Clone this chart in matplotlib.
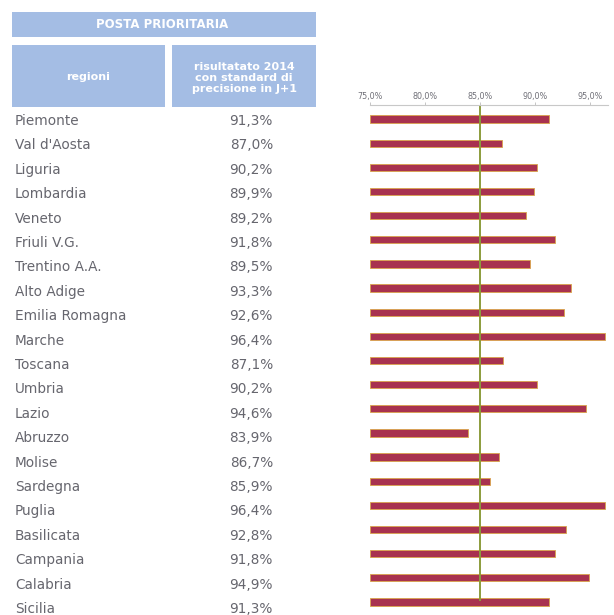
import matplotlib
matplotlib.use('Agg')
import matplotlib.pyplot as plt
from matplotlib.patches import Rectangle

regioni = ['Piemonte', "Val d'Aosta", 'Liguria', 'Lombardia', 'Veneto', 'Friuli V.G.',
           'Trentino A.A.', 'Alto Adige', 'Emilia Romagna', 'Marche', 'Toscana', 'Umbria',
           'Lazio', 'Abruzzo', 'Molise', 'Sardegna', 'Puglia', 'Basilicata', 'Campania',
           'Calabria', 'Sicilia']
risultato = [91.3, 87.0, 90.2, 89.9, 89.2, 91.8, 89.5, 93.3, 92.6, 96.4, 87.1, 90.2,
             94.6, 83.9, 86.7, 85.9, 96.4, 92.8, 91.8, 94.9, 91.3]
obiettivo = 85.0
xticks = [75, 80, 85, 90, 95]

W, H = 614, 615
fig = plt.figure(figsize=(W / 100, H / 100), dpi=100)

def fx(px):
    return px / W

def fy(py):
    return 1 - py / H

head_col = '#a4bde4'
txt_col = '#66666e'

# tabella a sinistra
fig.patches.append(Rectangle((fx(12), fy(37)), fx(304), 25 / H, transform=fig.transFigure,
                             facecolor=head_col, edgecolor='none'))
fig.text(fx(162), fy(24.5), 'POSTA PRIORITARIA', color='white', fontsize=8.5,
         fontweight='bold', ha='center', va='center')
fig.patches.append(Rectangle((fx(12), fy(107)), fx(153), 62 / H, transform=fig.transFigure,
                             facecolor=head_col, edgecolor='none'))
fig.patches.append(Rectangle((fx(172), fy(107)), fx(144), 62 / H, transform=fig.transFigure,
                             facecolor=head_col, edgecolor='none'))
fig.text(fx(88), fy(77), 'regioni', color='white', fontsize=8, fontweight='bold',
         ha='center', va='center')
fig.text(fx(244), fy(78), 'risultatato 2014\ncon standard di\nprecisione in J+1',
         color='white', fontsize=8, fontweight='bold', ha='center', va='center',
         linespacing=1.1)

row0, step = 121, 24.4
for i, (r, v) in enumerate(zip(regioni, risultato)):
    y = fy(row0 + i * step)
    fig.text(fx(15), y, r, color=txt_col, fontsize=9.8, ha='left', va='center')
    fig.text(fx(273), y, f'{v:.1f}%'.replace('.', ','), color=txt_col, fontsize=9.8,
             ha='right', va='center')

# grafico a barre
ax_top, ax_bot = 105, 615
bar0, bar_last = 119, 602
bstep = (bar_last - bar0) / (len(regioni) - 1)
ax = fig.add_axes([fx(370), fy(ax_bot), fx(608 - 370), (ax_bot - ax_top) / H])
n = len(regioni)
ypos = list(range(n))
ax.barh(ypos, [v - 75 for v in risultato], left=75, height=0.3, color='#a8324f',
        edgecolor='#d9a34a', linewidth=0.6)
ax.axvline(obiettivo, color='#8c9c3c', linewidth=1.4, ymin=0.03, ymax=1)
ax.set_xlim(75, 75 + 238 / 11)
ax.set_ylim(n - 1 + (ax_bot - bar_last) / bstep, -(bar0 - ax_top) / bstep)
ax.xaxis.tick_top()
ax.set_xticks(xticks)
ax.set_xticklabels([f'{t:.1f}%'.replace('.', ',') for t in xticks], fontsize=5.8,
                   color='#707078')
ax.tick_params(axis='x', length=2, width=0.6, color='#bbbbbb', pad=1)
ax.set_yticks([])
for s in ['bottom', 'left', 'right']:
    ax.spines[s].set_visible(False)
ax.spines['top'].set_color('#c8c8c8')
ax.spines['top'].set_linewidth(0.8)
ax.patch.set_alpha(0)

fig.savefig('out.png', dpi=100)
